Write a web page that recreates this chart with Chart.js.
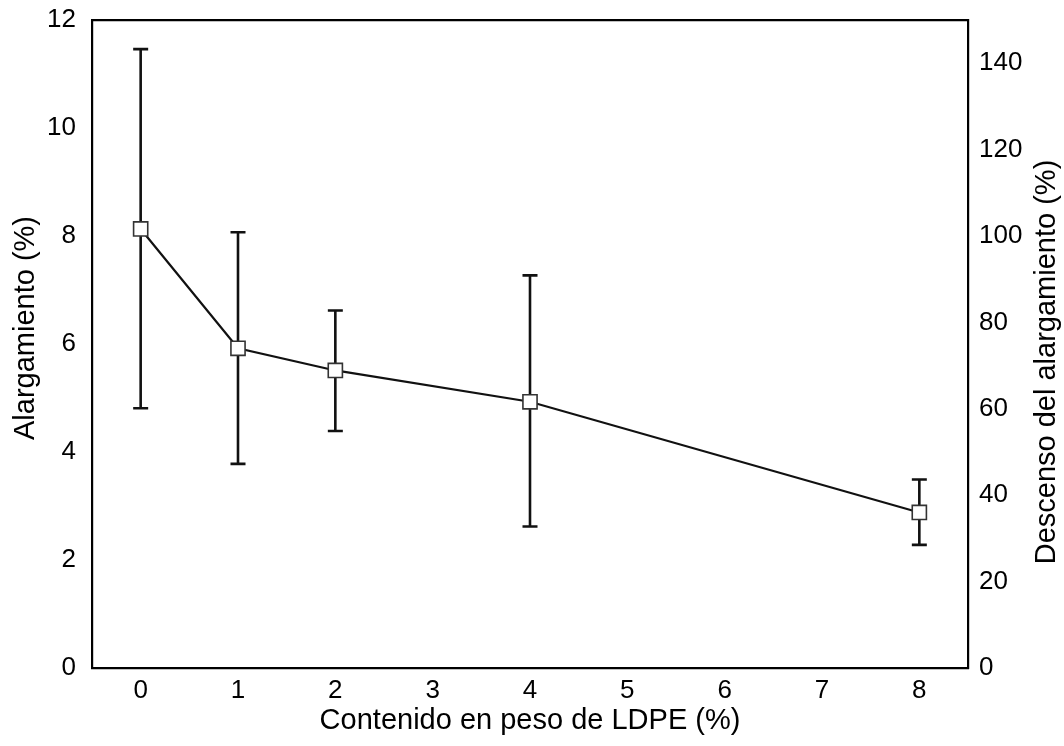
<!DOCTYPE html>
<html>
<head>
<meta charset="utf-8">
<script src="https://cdn.jsdelivr.net/npm/chart.js@4.4.1/dist/chart.umd.min.js"></script>
<style>
  html, body { margin: 0; padding: 0; background: #fff; }
  #wrap { width: 1064px; height: 746px; position: relative; }
</style>
</head>
<body>
<div id="wrap"><canvas id="chart"></canvas></div>
<script>
// Data
const ldpe = [0, 1, 2, 4, 8];                     // Contenido en peso de LDPE (%)
const alargamiento = [8.13, 5.92, 5.51, 4.93, 2.88]; // Alargamiento (%)
const errHigh = [11.46, 8.07, 6.62, 7.27, 3.49];
const errLow = [4.81, 3.78, 4.39, 2.62, 2.28];

// Tick labels
const xTicks = [0, 1, 2, 3, 4, 5, 6, 7, 8];
const yTicks = [0, 2, 4, 6, 8, 10, 12];
const y2Ticks = [0, 20, 40, 60, 80, 100, 120, 140];

const FONT = "'Liberation Sans', Arial, sans-serif";
Chart.defaults.font.family = FONT;
Chart.defaults.color = '#000';

const setTicks = list => scale => {
  scale.ticks = list.map(v => ({ value: v }));
};

// fixed box size, no extra room for labels sticking out
const fixSize = (w, h) => s => {
  if (w) s.width = w;
  if (h) s.height = h;
  s.paddingTop = 0;
  s.paddingBottom = 0;
  s.paddingLeft = 0;
  s.paddingRight = 0;
};

// Error bars, drawn under the markers
const errorBars = {
  id: 'errorBars',
  beforeDatasetsDraw(chart) {
    const { ctx, scales: { x, y } } = chart;
    ctx.save();
    ctx.strokeStyle = '#111';
    ctx.lineWidth = 2.6;
    ldpe.forEach((v, i) => {
      const px = x.getPixelForValue(v);
      const top = y.getPixelForValue(errHigh[i]);
      const bot = y.getPixelForValue(errLow[i]);
      ctx.beginPath();
      ctx.moveTo(px, top);
      ctx.lineTo(px, bot);
      ctx.moveTo(px - 7.5, top);
      ctx.lineTo(px + 7.5, top);
      ctx.moveTo(px - 7.5, bot);
      ctx.lineTo(px + 7.5, bot);
      ctx.stroke();
    });
    ctx.restore();
  }
};

// Both vertical axis titles read bottom to top
const yTitles = {
  id: 'yTitles',
  afterDraw(chart) {
    const { ctx } = chart;
    const draw = (text, x, y) => {
      ctx.save();
      ctx.translate(x, y);
      ctx.rotate(-Math.PI / 2);
      ctx.font = '29px ' + FONT;
      ctx.fillStyle = '#000';
      ctx.textAlign = 'center';
      ctx.textBaseline = 'middle';
      ctx.fillText(text, 0, 0);
      ctx.restore();
    };
    draw('Alargamiento (%)', 25.5, 328);
    draw('Descenso del alargamiento (%)', 1047, 362);
  }
};

new Chart(document.getElementById('chart'), {
  type: 'line',
  data: {
    datasets: [{
      data: ldpe.map((v, i) => ({ x: v, y: alargamiento[i] })),
      borderColor: '#111',
      borderWidth: 2.2,
      pointStyle: 'rect',
      pointRadius: 10,
      pointHoverRadius: 10,
      pointBackgroundColor: '#fff',
      pointBorderColor: '#333',
      pointBorderWidth: 1.6,
      tension: 0,
      fill: false
    }]
  },
  options: {
    responsive: true,
    maintainAspectRatio: false,
    animation: false,
    layout: { padding: 0 },
    plugins: {
      legend: { display: false },
      tooltip: { enabled: false }
    },
    scales: {
      x: {
        type: 'linear',
        position: 'bottom',
        min: -0.5,
        max: 8.5,
        afterBuildTicks: setTicks(xTicks),
        afterFit: fixSize(0, 78),
        grid: { display: false, drawTicks: false },
        border: { display: true, color: '#000', width: 2.2 },
        ticks: { font: { size: 26 }, padding: 7, maxRotation: 0 },
        title: {
          display: true,
          text: 'Contenido en peso de LDPE (%)',
          font: { size: 29 },
          padding: { top: 0, bottom: 8 }
        }
      },
      xTop: {
        type: 'linear',
        position: 'top',
        min: -0.5,
        max: 8.5,
        afterFit: fixSize(0, 20),
        grid: { display: false, drawTicks: false },
        border: { display: true, color: '#000', width: 2.2 },
        ticks: { display: false }
      },
      y: {
        position: 'left',
        min: 0,
        max: 12,
        afterBuildTicks: setTicks(yTicks),
        afterFit: fixSize(92, 0),
        grid: { display: false, drawTicks: false },
        border: { display: true, color: '#000', width: 2.2 },
        ticks: { font: { size: 26 }, padding: 16 }
      },
      y2: {
        position: 'right',
        min: 0,
        max: 150,
        afterBuildTicks: setTicks(y2Ticks),
        afterFit: fixSize(96, 0),
        grid: { display: false, drawTicks: false },
        border: { display: true, color: '#000', width: 2.2 },
        ticks: { font: { size: 26 }, padding: 11 }
      }
    }
  },
  plugins: [errorBars, yTitles]
});
</script>
</body>
</html>
